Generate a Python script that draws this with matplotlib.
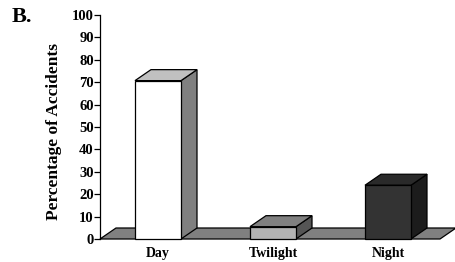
import matplotlib
matplotlib.use("Agg")
import matplotlib.pyplot as plt
from matplotlib.patches import Polygon

categories = ["Day", "Twilight", "Night"]
values = [70.7, 5.5, 24]
front_colors = ["#ffffff", "#b3b3b3", "#333333"]
top_colors = ["#c0c0c0", "#808080", "#2a2a2a"]
side_colors = ["#808080", "#555555", "#1c1c1c"]
yticks = list(range(0, 101, 10))

W, H = 456, 262
fig = plt.figure(figsize=(W / 100, H / 100), dpi=100)
left_px, right_px, top_px, bot_px = 100, 456, 15, 239
ax = fig.add_axes([left_px / W, 1 - bot_px / H, (right_px - left_px) / W, (bot_px - top_px) / H])

x0_px, step_px = 158, 115
xmin = (left_px - x0_px) / step_px
xmax = (right_px - x0_px) / step_px
ax.set_xlim(xmin, xmax)
ax.set_ylim(0, 100)

bw = 46 / step_px
dx = 16 / step_px
dy = 11 / 2.24

# floor
floor = Polygon([(xmin, 0), (xmin + dx, dy), (xmax, dy), (xmax - dx, 0)],
                closed=True, facecolor="#808080", edgecolor="black", lw=0.9,
                clip_on=False, zorder=1)
ax.add_patch(floor)

for i, (v, fc, tc, sc) in enumerate(zip(values, front_colors, top_colors, side_colors)):
    xl, xr = i - bw / 2, i + bw / 2
    front = Polygon([(xl, 0), (xr, 0), (xr, v), (xl, v)], closed=True,
                    facecolor=fc, edgecolor="black", lw=0.9, zorder=3, clip_on=False)
    top = Polygon([(xl, v), (xr, v), (xr + dx, v + dy), (xl + dx, v + dy)], closed=True,
                  facecolor=tc, edgecolor="black", lw=0.9, zorder=3, clip_on=False)
    side = Polygon([(xr, 0), (xr + dx, dy), (xr + dx, v + dy), (xr, v)], closed=True,
                   facecolor=sc, edgecolor="black", lw=0.9, zorder=3, clip_on=False)
    ax.add_patch(side)
    ax.add_patch(top)
    ax.add_patch(front)

serif = ["Liberation Serif", "DejaVu Serif"]
for s in ["top", "right", "bottom"]:
    ax.spines[s].set_visible(False)
ax.spines["left"].set_linewidth(0.9)
ax.set_yticks(yticks)
ax.set_yticklabels([str(t) for t in yticks], fontfamily=serif, fontweight="bold", fontsize=10.5)
ax.tick_params(axis="y", direction="out", length=4, width=0.9, pad=0.5)
ax.set_xticks(range(len(categories)))
ax.set_xticklabels(categories, fontfamily=serif, fontweight="bold", fontsize=10)
ax.tick_params(axis="x", length=0, pad=6)
ax.set_ylabel("Percentage of Accidents", fontfamily=serif, fontweight="bold", fontsize=12.5)
ax.yaxis.set_label_coords(-38 / (right_px - left_px), 0.48)

fig.text(12 / W, 1 - 17 / H, "B.", fontfamily=serif, fontweight="bold", fontsize=16, va="center", ha="left")

fig.savefig("out.png", dpi=100)
